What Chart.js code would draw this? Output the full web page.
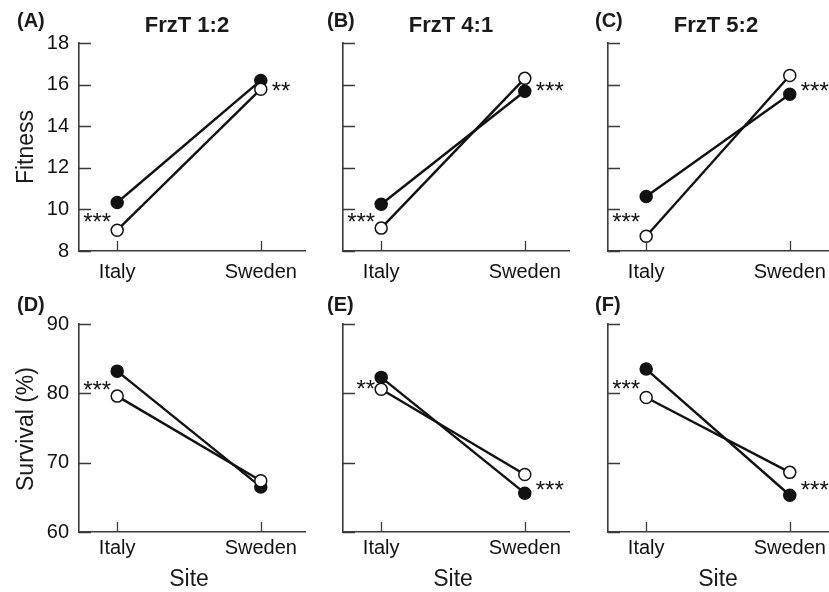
<!DOCTYPE html>
<html>
<head>
<meta charset="utf-8">
<script src="https://cdn.jsdelivr.net/npm/chart.js@4.4.1/dist/chart.umd.min.js"></script>
<style>
  html, body { margin: 0; padding: 0; background: #fff; overflow: hidden; }
  body { width: 829px; height: 592px; position: relative; font-family: "Liberation Sans", Arial, sans-serif; color: #1a1a1a; }
  canvas { position: absolute; }
  .txt { position: absolute; white-space: nowrap; line-height: 1; }
  .letter { font-weight: bold; font-size: 20px; }
  .title { font-weight: bold; font-size: 22px; transform: translateX(-50%); }
  .ytitle { font-size: 23px; transform: translate(-50%, -50%) rotate(-90deg); }
  .xtitle { font-size: 23px; transform: translateX(-50%); }
</style>
</head>
<body>
<script>
// data
const sites = ['Italy', 'Sweden'];
const panelLetters = ['(A)', '(B)', '(C)', '(D)', '(E)', '(F)'];
const panelTitles = ['FrzT 1:2', 'FrzT 4:1', 'FrzT 5:2'];

const fitnessFilled = [[10.33, 16.2], [10.25, 15.68], [10.62, 15.54]];
const fitnessOpen = [[9.0, 15.78], [9.1, 16.3], [8.71, 16.44]];
const survivalFilled = [[83.2, 66.5], [82.3, 65.6], [83.5, 65.3]];
const survivalOpen = [[79.6, 67.4], [80.6, 68.3], [79.4, 68.6]];

const italyStars = ['***', '***', '***', '***', '**', '***'];
const swedenStars = ['**', '***', '***', '', '***', '***'];

const fitnessRange = [8, 18, 2];
const survivalRange = [60, 90, 10];

// layout (pixels)
const colX = [79, 343, 608];
const rowTop = [43, 324];
const plotH = 208;
const plotW = 226;
const yBox = 70;
const xBox = 45;
const padTop = 26;
const padRight = 30;
const xLabelPad = [9, 4];

const ink = '#111';
const axisCol = '#3a3a3a';

const decor = {
    id: 'decor',
    afterDraw(chart) {
        const { ctx, scales: { x, y } } = chart;
        const o = chart.options.plugins.decor;
        ctx.save();
        ctx.strokeStyle = axisCol;
        ctx.lineWidth = 1.3;
        ctx.beginPath();
        y.ticks.forEach(t => {
            const py = Math.round(y.getPixelForValue(t.value)) + 0.5;
            ctx.moveTo(x.left, py);
            ctx.lineTo(x.left + 12, py);
        });
        x.ticks.forEach(t => {
            const px = Math.round(x.getPixelForValue(t.value)) + 0.5;
            ctx.moveTo(px, y.bottom);
            ctx.lineTo(px, y.bottom - 10);
        });
        ctx.stroke();

        // significance stars
        ctx.fillStyle = ink;
        ctx.font = '24px "Liberation Sans", Arial, sans-serif';
        ctx.textBaseline = 'alphabetic';
        const d0 = chart.data.datasets[0].data;
        const d1 = chart.data.datasets[1].data;
        const midI = (y.getPixelForValue(d0[0].y) + y.getPixelForValue(d1[0].y)) / 2;
        const midS = (y.getPixelForValue(d0[1].y) + y.getPixelForValue(d1[1].y)) / 2;
        ctx.textAlign = 'right';
        ctx.fillText(o.left, x.getPixelForValue(0) - 6, midI + 14);
        ctx.textAlign = 'left';
        ctx.fillText(o.right, x.getPixelForValue(1) + 11, midS + 14);
        ctx.restore();
    }
};

function addText(cls, text, left, top) {
    const d = document.createElement('div');
    d.className = 'txt ' + cls;
    d.textContent = text;
    d.style.left = left + 'px';
    d.style.top = top + 'px';
    document.body.appendChild(d);
}

function makePanel(row, col) {
    const idx = row * 3 + col;
    const filled = row === 0 ? fitnessFilled[col] : survivalFilled[col];
    const open = row === 0 ? fitnessOpen[col] : survivalOpen[col];
    const range = row === 0 ? fitnessRange : survivalRange;

    const cv = document.createElement('canvas');
    const w = yBox + plotW + padRight;
    const h = padTop + plotH + xBox;
    cv.width = w;
    cv.height = h;
    cv.style.left = (colX[col] - yBox) + 'px';
    cv.style.top = (rowTop[row] - padTop) + 'px';
    document.body.appendChild(cv);

    const tickFont = { family: '"Liberation Sans", Arial, sans-serif', size: 20 };

    new Chart(cv.getContext('2d'), {
        type: 'line',
        data: {
            datasets: [
                {
                    label: 'open',
                    data: open.map((v, i) => ({ x: i, y: v })),
                    borderColor: ink,
                    borderWidth: 2.4,
                    pointRadius: 6,
                    pointBorderWidth: 1.5,
                    pointBackgroundColor: '#fff',
                    pointBorderColor: ink
                },
                {
                    label: 'filled',
                    data: filled.map((v, i) => ({ x: i, y: v })),
                    borderColor: ink,
                    borderWidth: 2.4,
                    pointRadius: 6,
                    pointBorderWidth: 1.5,
                    pointBackgroundColor: ink,
                    pointBorderColor: ink
                }
            ]
        },
        options: {
            responsive: false,
            animation: false,
            layout: { padding: { top: padTop, left: 0, right: padRight, bottom: 0 } },
            plugins: {
                legend: { display: false },
                tooltip: { enabled: false },
                decor: { left: italyStars[idx], right: swedenStars[idx] }
            },
            scales: {
                x: {
                    type: 'linear',
                    min: -0.266,
                    max: 1.308,
                    grid: { display: false, drawTicks: false },
                    border: { display: true, color: axisCol, width: 1.6 },
                    afterBuildTicks: s => { s.ticks = [{ value: 0 }, { value: 1 }]; },
                    afterFit: s => { s.height = xBox; },
                    ticks: {
                        color: ink,
                        font: tickFont,
                        padding: xLabelPad[row],
                        maxRotation: 0,
                        callback: v => sites[v]
                    }
                },
                y: {
                    min: range[0],
                    max: range[1],
                    grid: { display: false, drawTicks: false },
                    border: { display: true, color: axisCol, width: 1.6 },
                    afterFit: s => { s.width = yBox; },
                    ticks: {
                        stepSize: range[2],
                        color: ink,
                        font: tickFont,
                        padding: 10,
                        callback: v => col === 0 ? v : ''
                    }
                }
            }
        },
        plugins: [decor]
    });
}

for (let r = 0; r < 2; r++) {
    for (let c = 0; c < 3; c++) makePanel(r, c);
}

// panel letters, titles and axis titles
const letterPos = [[17, 10], [327, 10], [595, 10], [17, 294], [327, 294], [595, 294]];
panelLetters.forEach((t, i) => addText('letter', t, letterPos[i][0], letterPos[i][1]));
panelTitles.forEach((t, i) => addText('title', t, colX[i] + 108, 14));
addText('ytitle', 'Fitness', 25, 147);
addText('ytitle', 'Survival (%)', 25, 429);
colX.forEach(x => addText('xtitle', 'Site', x + 110, 567));
</script>
</body>
</html>
